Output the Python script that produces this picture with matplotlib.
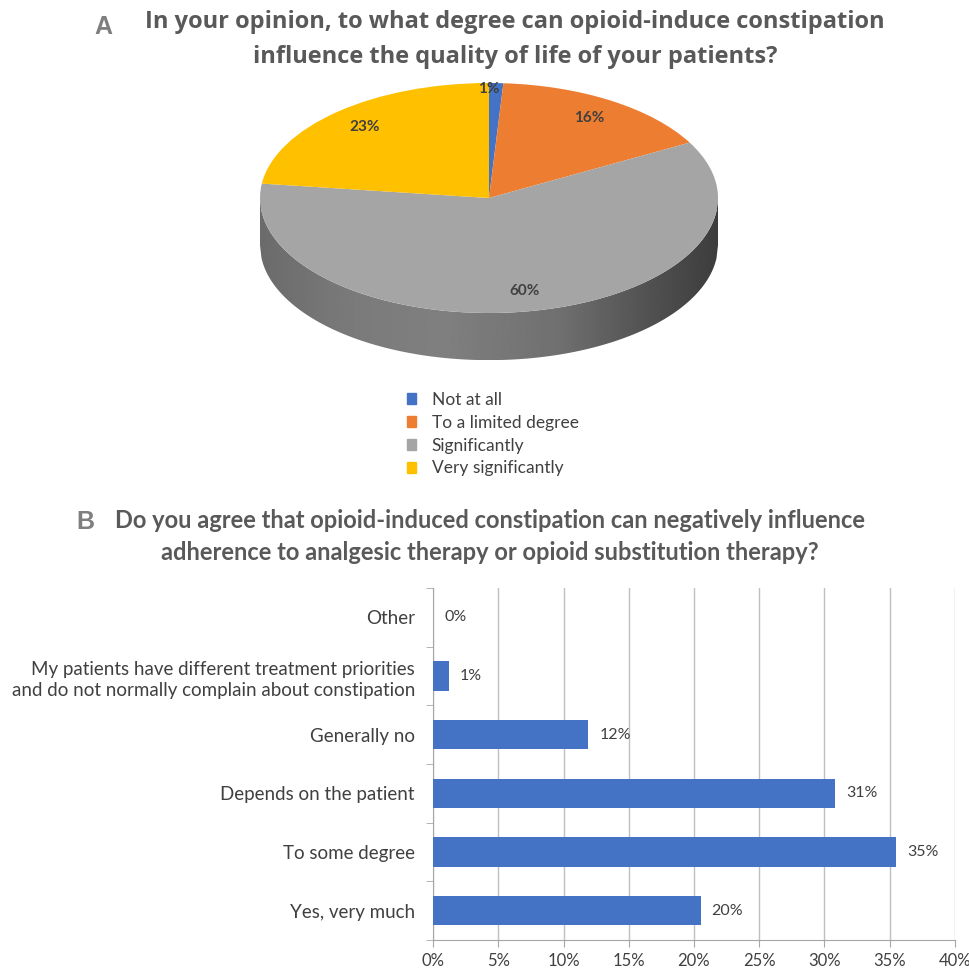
import numpy as np
import matplotlib
matplotlib.use("Agg")
import matplotlib.pyplot as plt
from matplotlib.patches import Patch, Polygon

W, H = 970, 969

# ---- panel A data ----
pie_labels = ["Not at all", "To a limited degree", "Significantly", "Very significantly"]
pie_values = [1, 16, 60, 23]
pie_colors = ["#4472C4", "#ED7D31", "#A5A5A5", "#FFC000"]

# ---- panel B data ----
bar_cats = ["Other",
            "My patients have different treatment priorities\nand do not normally complain about constipation",
            "Generally no", "Depends on the patient", "To some degree", "Yes, very much"]
bar_values = [0.0, 1.2, 11.9, 30.8, 35.5, 20.5]
bar_text = ["0%", "1%", "12%", "31%", "35%", "20%"]

TXT = "#404040"
TITLE = "#595959"
SANS = ["Lato", "DejaVu Sans"]


def px(x, y):
    return x / W, 1 - y / H


fig = plt.figure(figsize=(W / 100, H / 100), dpi=100)

# ---- titles ----
fig.text(*px(103, 27), "A", ha="center", va="center", fontsize=18, fontweight="bold",
         color="#7F7F7F", family="Liberation Sans")
fig.text(*px(515, 22), "In your opinion, to what degree can opioid-induce constipation",
         ha="center", va="center", fontsize=17, fontweight="bold", color=TITLE, family="Open Sans")
fig.text(*px(515, 57), "influence the quality of life of your patients?",
         ha="center", va="center", fontsize=17, fontweight="bold", color=TITLE, family="Open Sans")
fig.text(*px(85, 522), "B", ha="center", va="center", fontsize=18, fontweight="bold",
         color="#7F7F7F", family="Liberation Sans")
fig.text(*px(490, 520), "Do you agree that opioid-induced constipation can negatively influence",
         ha="center", va="center", fontsize=17, fontweight="bold", color=TITLE, family=SANS)
fig.text(*px(490, 552), "adherence to analgesic therapy or opioid substitution therapy?",
         ha="center", va="center", fontsize=17, fontweight="bold", color=TITLE, family=SANS)

# ---- A: tilted pie (top face = ax.pie squashed, side = shaded band) ----
cx, cy, rx, ry, depth = 489, 198, 229, 115, 0.41
x0, x1, y0, y1 = -1.1, 1.1, -1.6, 1.1
axp = fig.add_axes([(cx + x0 * rx) / W, 1 - (cy - y0 * ry) / H, (x1 - x0) * rx / W, (y1 - y0) * ry / H])

# side band: gradient image clipped to the front rim
xs = np.linspace(-1, 1, 300)
rim = -np.sqrt(np.clip(1 - xs ** 2, 0, None))
side = Polygon(np.r_[np.c_[xs, rim], np.c_[xs[::-1], rim[::-1] - depth]], closed=True,
               facecolor="none", edgecolor="none")
axp.add_patch(side)
shade = np.interp(xs, [-1, -0.6, -0.2, 0.3, 0.7, 1], [0.42, 0.48, 0.50, 0.44, 0.32, 0.24])
img = axp.imshow(shade[None, :], cmap="gray", vmin=0, vmax=1, aspect="auto",
                 extent=(-1, 1, -1 - depth, 0), zorder=1, interpolation="bilinear")
img.set_clip_path(side)

wedges, texts, autotexts = axp.pie(pie_values, colors=pie_colors, startangle=90, counterclock=False,
                                   autopct="%d%%", pctdistance=0.82,
                                   wedgeprops=dict(linewidth=0),
                                   textprops=dict(fontsize=11, color=TXT, fontweight="bold", family=SANS))
for w in wedges:
    w.set_zorder(2)
for t in autotexts:
    t.set_zorder(3)
autotexts[0].set_position((0.0, 0.95))
axp.set_aspect("auto")
axp.set_xlim(x0, x1)
axp.set_ylim(y0, y1)
axp.axis("off")

handles = [Patch(color=c, label=l) for c, l in zip(pie_colors, pie_labels)]
leg = fig.legend(handles=handles, loc="upper left", bbox_to_anchor=px(391, 376), frameon=False,
                 handlelength=0.55, handleheight=0.55, handletextpad=0.9, labelspacing=0.40,
                 prop=dict(family=SANS, size=12.5))
for t in leg.get_texts():
    t.set_color(TXT)

# ---- B: horizontal bars ----
axb = fig.add_axes([433 / W, 1 - 940 / H, 522 / W, 352 / H])
ypos = np.arange(len(bar_cats))
axb.barh(ypos, bar_values, height=0.5, color="#4472C4", zorder=3)
for y, v, s in zip(ypos, bar_values, bar_text):
    axb.annotate(s, (v, y), xytext=(8, 0), textcoords="offset points", va="center", ha="left",
                 fontsize=11.5, color=TXT, family=SANS)
axb.set_ylim(len(bar_cats) - 0.5, -0.5)
axb.set_xlim(0, 40)
axb.set_xticks(np.arange(0, 41, 5))
axb.set_xticklabels([f"{v}%" for v in range(0, 41, 5)], fontsize=12, color=TXT, family=SANS)
axb.set_yticks(ypos)
axb.set_yticklabels(bar_cats, fontsize=13.5, color=TXT, family=SANS, linespacing=1.3)
axb.set_yticks(np.arange(-0.5, len(bar_cats)), minor=True)
axb.tick_params(axis="y", which="major", length=0, pad=13)
axb.tick_params(axis="y", which="minor", length=5, color="#A6A6A6", direction="out")
axb.tick_params(axis="x", length=5, color="#A6A6A6", pad=4)
axb.grid(axis="x", color="#BFBFBF", lw=1, zorder=0)
for s in ["top", "right"]:
    axb.spines[s].set_visible(False)
for s in ["left", "bottom"]:
    axb.spines[s].set_color("#A6A6A6")

fig.savefig("out.png", dpi=100)
